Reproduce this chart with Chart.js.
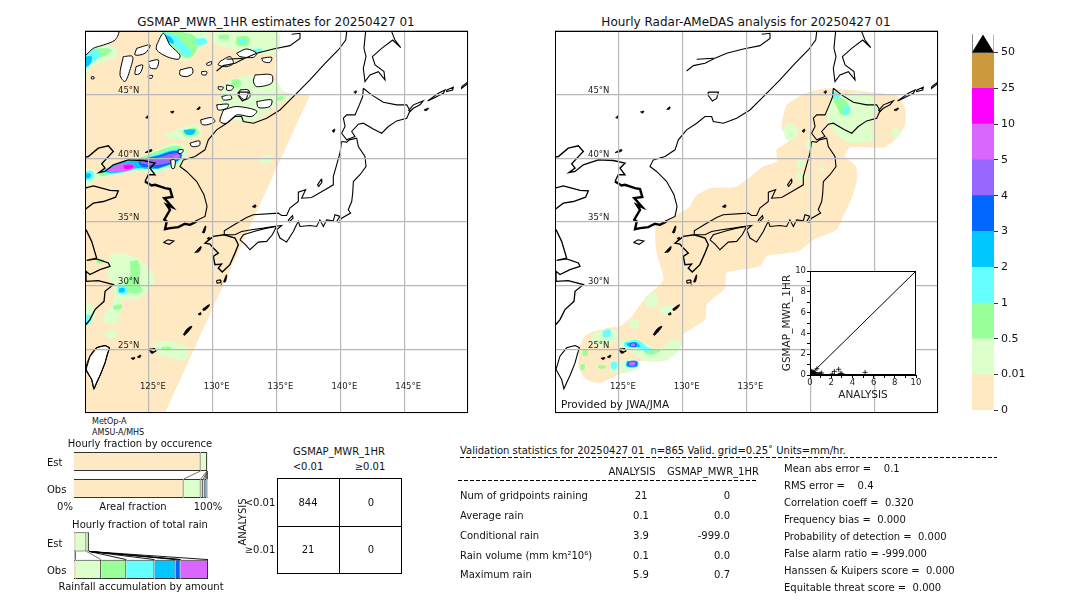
<!DOCTYPE html>
<html>
<head>
<meta charset="utf-8">
<script src="https://cdn.jsdelivr.net/npm/chart.js@4/dist/chart.umd.js"></script>
<style>
  html, body { margin: 0; background: #fff; }
  body { width: 1080px; height: 612px; position: relative; overflow: hidden; font-family: "DejaVu Sans", sans-serif; color: #111; }
  canvas { position: absolute; }
  .t { position: absolute; white-space: pre; line-height: 1; margin-top: 1px; transform: translate(0, -50%); font-size: 10px; }
  .c { transform: translate(-50%, -50%); }
  .r { transform: translate(-100%, -50%); }
  .dash { position: absolute; height: 1px; background: repeating-linear-gradient(90deg, #000 0 4px, transparent 4px 6px); }
  .cell { position: absolute; border: 1px solid #000; box-sizing: border-box; }
</style>
</head>
<body>
<canvas id="mapLeft" width="385" height="384" style="left:85px;top:30px"></canvas>
<canvas id="mapRight" width="385" height="384" style="left:555px;top:30px"></canvas>
<canvas id="inset" width="150" height="140" style="left:775px;top:262px"></canvas>
<canvas id="colorbar" width="70" height="395" style="left:965px;top:25px"></canvas>
<canvas id="occurrence" width="142" height="62" style="left:70px;top:444px"></canvas>
<canvas id="rainfall" width="142" height="63" style="left:70px;top:524px"></canvas>
<div id="labels"></div>
<script>
// colour levels, low to high
const levelLabels = ['0', '0.01', '0.5', '1', '2', '3', '4', '5', '10', '25', '50']
const levelColors = ['#ffe9c2', '#ddffcc', '#99ff99', '#66ffff', '#00c8ff', '#0066ff', '#9966ff', '#d966ff', '#ff00ff', '#cc9a3c']
const [TAN, LG, GR, CY, LB, BL, VI, PU, MG] = levelColors

// coastlines, [lon, lat]
const coastAsia = [[128.62,35.05],[129.4,35.44],[129.56,36.22],[129.32,37.14],[128.75,38.18],[127.96,38.97],[127.44,39.36],[127.7,39.88],[128.62,40.14],[129.4,40.67],[129.66,41.45],[130.31,42.24],[131.1,42.76],[131.75,43.28],[132.27,43.28],[132.4,42.89],[133.19,42.76],[134.23,43.15],[135.27,43.8],[136.32,44.85],[137.62,46.16],[138.8,47.46],[139.84,48.51],[140.42,49.29],[140.5,49.95]]
const coastKoreaSouthWest = [[128.75,35.05],[128.22,34.78],[127.83,34.86],[127.31,34.6],[126.66,34.52],[126.27,34.44],[126.4,35.04],[126.21,35.18],[126.66,35.96],[126.4,36.35],[126.84,36.17],[126.21,36.88],[126.84,36.96],[126.66,37.58],[126.27,37.66],[125.48,37.92],[125.22,37.87],[124.7,38.18]]
const coastKoreaWest = [[124.7,38.18],[124.96,38.71],[125.48,38.71],[125.09,39.23],[125.48,39.62],[124.57,39.83],[123.39,39.88],[122.22,39.49],[121.57,38.97],[121.1,38.89],[121.57,39.23],[121.31,39.57],[121.96,40.27],[122.22,40.54],[121.83,40.98],[121.04,40.8],[120.26,40.14],[120,40.09]]
const coastShandong = [[120,37.66],[120.65,37.84],[121.31,37.66],[121.96,37.48],[122.61,37.45],[122.4,36.95],[121.44,36.61],[120.65,36.48],[120.13,36.09],[120,35.96]]
const coastChina = [[120.08,34.4],[120.52,33.48],[120.91,32.17],[120.13,31.99],[120.91,32.1],[121.83,31.78],[121.96,31.52],[121.17,31.26],[120.39,30.87],[120.08,31.13],[120.08,30.34],[121.04,30.4],[122.22,30.08],[121.57,29.56],[121.49,28.77],[120.78,28.12],[120.39,27.34],[120.08,26.95]]
const coastAmur = [[130.31,46.86],[130.84,47.28],[131.75,47.46],[132.53,47.86],[131.1,47.78],[132.53,47.86],[133.45,48.25],[134.75,48.59],[136.06,48.85],[136.84,49.42],[136.84,49.82],[136.19,49.74]]
const coastSakhalin = [[141.98,49.95],[141.85,48.64],[142.01,47.99],[141.8,47.07],[141.93,46.03],[142.32,46.55],[142.98,46.81],[143.5,46.16],[143.42,46.81],[142.72,47.33],[142.51,47.99],[143.24,48.64],[144.1,49.29],[144.73,48.69],[144.28,49.29],[144.02,49.95]]
const coastHokkaido = [[141.8,45.5],[142.45,44.98],[143.37,44.41],[144.41,44.2],[145.2,44.2],[145.46,43.73],[145.2,43.15],[144.41,42.94],[143.76,42.5],[143.24,41.97],[142.58,42.31],[141.8,42.76],[141.41,42.68],[140.89,42.11],[141.15,41.71],[140.5,41.45],[140.1,41.97],[140.37,42.5],[140.24,43.15],[140.5,43.41],[141.15,43.41],[141.49,44.2],[141.75,44.85],[141.8,45.5]]
const coastHonshu = [[140.1,41.32],[140.5,41.27],[140.7,41.45],[141.28,41.58],[141.41,40.93],[141.93,40.14],[142.01,39.36],[141.54,38.71],[141.02,38.18],[140.97,37.27],[140.89,36.61],[140.62,35.96],[140.81,35.7],[140.1,35.3],[139.9,34.99],[139.71,35.05],[139.97,35.44],[139.58,35.57],[139.45,35.1],[138.93,35.17],[138.67,34.65],[138.4,35.17],[138.14,34.65],[137.62,34.73],[136.84,34.65],[136.71,35.05],[136.5,34.65],[136.32,34.26],[135.79,33.42],[135.27,33.74],[135.01,34.39],[135.4,34.73],[134.75,34.65],[133.97,34.52],[133.05,34.39],[132.27,34.26],[131.75,34],[130.96,34],[130.91,34.31],[131.75,34.83],[132.66,35.36],[133.18,35.57],[135.14,35.7],[135.4,35.51],[135.79,35.51],[136.05,36.09],[136.71,36.61],[136.71,37.34],[137.28,37.53],[136.97,36.87],[137.75,36.93],[138.8,37.53],[139.45,37.92],[139.45,38.57],[139.71,39.49],[139.97,40.4],[140.1,41.32]]
const coastShikoku = [[132.14,33.6],[132.4,34],[133.44,34.31],[134.23,34.52],[135.01,34.65],[134.67,34],[134.23,33.48],[133.57,33.42],[132.92,32.82],[132.53,33.27],[132.14,33.6]]
const coastKyushu = [[130.91,34],[131.75,33.74],[132.01,33.21],[131.75,32.56],[131.35,31.65],[130.75,31.07],[130.44,31.38],[130.7,31.7],[130.18,31.65],[130.05,32.3],[130.44,32.56],[130.05,32.95],[129.79,33.27],[129.4,33.34],[130.05,33.87],[130.91,34]]
const coastTaiwan = [[121.57,25.3],[121.91,25.12],[121.75,24.6],[121.57,23.94],[121.2,23],[120.91,22.37],[120.7,21.9],[120.52,22.63],[120.08,23.42],[120.39,24.46],[120.91,25.12],[121.57,25.3]]
const coastKunashir = [[145.33,43.73],[145.72,44.2],[146.5,44.51],[146.24,44.2],[145.72,43.93],[145.4,43.62]]
const ringIturup = [[146.84,44.51],[147.68,45.11],[148.2,45.37],[148.07,45.11],[147.29,44.72],[146.84,44.51]]
const ringUrup = [[148.33,45.37],[148.85,45.58],[148.8,45.37],[148.33,45.24],[148.33,45.37]]
const ringSimushir = [[149.5,45.63],[150,46],[149.9,45.8],[149.5,45.5],[149.5,45.63]]
const ringJeju = [[126.14,33.4],[126.5,33.6],[126.97,33.5],[126.6,33.25],[126.14,33.4]]
const ringSado = [[138.2,37.9],[138.5,38.35],[138.55,38.1],[138.3,37.8],[138.2,37.9]]
const ringBiwa = [[135.9,35.1],[136.25,35.5],[136.3,35.3],[136,35],[135.9,35.1]]
const ringKhanka = [[132,45.2],[132.8,45.2],[132.66,44.7],[132.33,44.5],[132,44.95],[132,45.2]]
const ringMiyako = [[125.0,25.0],[125.45,25.05],[125.55,24.85],[125.2,24.75],[125.0,25.0]]
const ringYaku = [[130.3,30.4],[130.6,30.45],[130.65,30.25],[130.35,30.2],[130.3,30.4]]
// small islands, drawn solid
const isleList = [
  [[127.7,26.16],[128.0,26.6],[128.36,26.81],[128.3,26.65],[127.8,26.1]],
  [[129.22,28.17],[129.74,28.51],[129.6,28.25],[129.3,28.05]],
  [[128.85,27.75],[129.05,27.9],[129.05,27.7]],
  [[123.6,24.3],[123.9,24.35],[123.8,24.2]],
  [[124.1,24.4],[124.35,24.55],[124.3,24.35]],
  [[125.15,24.9],[125.4,24.75],[125.2,24.7]],
  [[129.19,34.18],[129.45,34.7],[129.35,34.15]],
  [[129.55,33.7],[129.75,33.8],[129.7,33.65]],
  [[128.6,32.6],[129.08,33.08],[128.95,32.7]],
  [[130.85,30.3],[131.09,30.86],[131,30.3]],
  [[133.1,36.2],[133.35,36.35],[133.35,36.15]],
  [[141.05,45.2],[141.25,45.3],[141.2,45.1]],
  [[139.35,42.15],[139.55,42.3],[139.5,42.05]],
  [[146.55,43.8],[146.9,43.95],[146.75,43.75]],
  [[126.7,43.65],[126.95,43.7],[126.85,43.55]],
  [[128.75,43.85],[129,44.05],[128.95,43.85]],
  [[124.75,43.2],[124.95,43.35],[124.9,43.15]],
  [[124.7,40.45],[125.2,40.7],[125.2,40.55]]
]

// left panel rain field
const swathTan = [[120,50],[135,50],[135.01,48.9],[134.88,47.07],[135.01,46.03],[135.53,45.24],[136.58,44.98],[137.62,44.98],[126.26,20],[120,20]]
const leftHoles = [
  [[120,50],[122.61,50],[122.35,49.29],[121.44,48.9],[120.65,48.64],[120,48.12]],
  [[123,47.99],[123.73,47.99],[123.52,46.94],[123.13,46.03],[122.74,46.55]],
  [[124.05,48.64],[125.09,48.9],[124.7,48.25],[123.92,48.12]],
  [[124.96,47.59],[125.74,47.73],[125.61,47.07],[125.09,47.12]],
  [[124,47.2],[124.52,47.33],[124.31,46.68],[123.92,46.6]],
  [[124.96,46.5],[125.3,46.5],[125.22,46.29],[124.96,46.34]],
  [[125.61,48.9],[126.14,49.82],[126.66,48.9],[127.44,48.12],[127.31,47.78],[126.4,47.99],[125.61,48.51]],
  [[127.44,46.94],[128.36,47.12],[128.43,46.68],[127.96,46.42],[127.44,46.55]],
  [[129.14,46.81],[129.53,46.81],[129.48,46.55],[129.14,46.6]],
  [[129.53,47.46],[129.92,47.6],[129.84,47.33],[129.53,47.33]],
  [[130.57,47.6],[131.36,47.99],[131.62,47.46],[131.1,47.2],[130.44,47.33]],
  [[131.88,48.25],[132.66,48.59],[133.45,48.25],[133.19,47.93],[132.14,47.99]],
  [[133.84,47.86],[134.62,47.93],[134.49,47.54],[133.97,47.6]],
  [[133.32,46.55],[134.62,46.55],[134.62,45.9],[133.45,45.63],[133.19,46.03]],
  [[130.44,45.63],[130.84,45.58],[130.71,45.37],[130.44,45.45]],
  [[131.1,45.77],[131.62,45.63],[131.49,45.37],[131.1,45.37]],
  [[132.14,45.37],[132.79,45.37],[132.92,44.85],[132.53,44.59],[132.09,44.93]],
  [[130.71,44.85],[131.36,44.98],[131.49,44.67],[130.84,44.59]],
  [[133.45,44.46],[134.62,44.59],[134.49,44.07],[133.58,43.99]],
  [[130.31,44.2],[131.23,44.25],[131.1,43.93],[130.44,43.8]],
  [[130.84,43.8],[131.88,44.07],[133.45,43.73],[133.05,43.28],[131.88,43.41],[131.1,42.76],[130.57,42.89]],
  [[129.06,43.02],[129.92,43.2],[130.18,42.89],[129.53,42.63],[129.14,42.68]],
  [[128.22,41.19],[128.96,41.37],[128.96,41.01],[128.36,40.93]],
  [[127.31,40.67],[127.7,40.67],[127.57,40.41],[127.31,40.41]],
  [[126.71,39.88],[127.05,39.88],[127,39.23],[126.79,39.23]],
  [[120.5,46.4],[120.7,46.4],[120.7,46.25],[120.5,46.25]],
  coastTaiwan
]
const leftBlobs = [
  [LG, [[120,48.9],[121.44,48.9],[122.35,48.64],[122.48,47.99],[121.44,47.59],[120.39,47.07],[120,46.29]]],
  [GR, [[120,48.43],[121.18,48.64],[122.09,48.51],[121.44,47.99],[120.65,47.86],[120,47.2]]],
  [CY, [[120,48.25],[120.91,48.51],[121.18,48.12],[120.52,47.46],[120,47.07]]],
  [LB, [[120,47.99],[120.52,47.99],[120.39,47.39],[120,47.2]]],
  [LG, [[125.74,50],[129.66,50],[129.4,49.03],[128.49,48.12],[128.1,47.73],[127.18,47.86],[126.14,49.16]]],
  [GR, [[126,50],[127.7,49.9],[128.75,49.42],[128.62,48.25],[127.96,47.86],[127.31,48.38],[126.4,49.16]]],
  [CY, [[126.14,49.9],[127.05,49.69],[127.7,49.03],[128.36,48.25],[127.83,48.07],[127.05,48.85],[126.45,49.16]]],
  [LB, [[126.14,49.69],[126.66,49.56],[126.97,49.03],[126.53,49.16]]],
  [CY, [[128.49,49.37],[129.4,49.42],[129.53,49.03],[128.75,48.95]]],
  [LG, [[129.92,50],[135,50],[135,48.38],[133.32,48.25],[131.88,48.51],[130.05,49.16]]],
  [GR, [[130.44,49.69],[131.23,49.69],[131.23,49.37],[130.57,49.37]]],
  [GR, [[131.88,49.56],[132.79,49.56],[132.79,48.9],[131.88,48.9]]],
  [CY, [[132.09,49.29],[132.53,49.29],[132.53,49.03],[132.09,49.03]]],
  [CY, [[133.19,48.59],[133.84,48.59],[133.84,48.38],[133.19,48.38]]],
  [LG, [[131.1,46.03],[132.92,46.55],[135,46.03],[135.53,45.24],[136.32,44.98],[135.01,44.2],[133.97,43.41],[132.66,42.89],[130.57,43.54],[130.57,44.72]]],
  [GR, [[131.49,46.16],[132.14,46.16],[132.14,45.63],[131.49,45.63]]],
  [GR, [[135,44.85],[135.53,44.85],[135.4,44.59],[135,44.59]]],
  [LG, [[126.14,41.84],[127.44,42.37],[128.75,42.63],[129.14,41.97],[127.96,41.45],[126.53,41.58]]],
  [GR, [[127.57,42.1],[128.62,42.37],[128.88,41.97],[127.96,41.71]]],
  [LB, [[127.7,42.24],[128.62,42.24],[128.49,41.9],[127.91,41.9]]],
  [LG, [[120.91,38.58],[122.74,39.49],[124.31,40.14],[125.87,40.8],[126.92,41.19],[127.96,40.8],[127.7,39.75],[126.4,39.1],[125.35,38.84],[124.05,38.97],[122.22,38.71],[121.04,38.45]]],
  [GR, [[121.04,38.84],[122.74,39.62],[124.31,40.07],[125.61,40.54],[126.79,40.93],[127.57,40.8],[127.44,39.75],[126.14,39.23],[124.31,39.23],[122.48,38.84],[121.18,38.58]]],
  [CY, [[121.18,38.97],[122.74,39.7],[124.44,40.07],[125.61,40.33],[126.79,40.72],[127.44,40.67],[127.44,39.88],[125.87,39.28],[124.05,39.1],[122.22,38.76]]],
  [LB, [[121.31,38.97],[122.74,39.62],[124.18,39.88],[125.48,40.2],[127.18,40.64],[127.57,40.15],[125.87,39.23],[124.96,39.18],[124.05,39.23],[122.22,38.84]]],
  [BL, [[124.18,39.96],[125.48,40.12],[127.26,40.59],[127.52,40.01],[125.87,39.28],[125.22,39.28],[124.31,39.44]]],
  [VI, [[124.26,39.96],[125.48,40.01],[127.18,40.41],[127.44,40.07],[125.87,39.49],[124.44,39.62]]],
  [PU, [[121.57,39.05],[122.74,39.54],[123.52,39.62],[123.92,39.36],[123.39,39.02],[122.09,38.92]]],
  [PU, [[126.92,40.2],[127.31,40.28],[127.31,40.02],[126.95,40]]],
  [MG, [[123,39.44],[123.66,39.49],[123.79,39.28],[123.13,39.18]]],
  [LG, [[120,39.1],[121,38.97],[121.05,38.45],[120,37.9]]],
  [CY, [[120,38.97],[120.6,38.97],[120.65,38.45],[120,38.3]]],
  [LB, [[120,38.84],[120.44,38.79],[120.39,38.5],[120,38.45]]],
  [LG, [[133.58,40.01],[134.36,40.27],[134.7,39.88],[134.23,39.62],[133.71,39.7]]],
  [LG, [[121.96,32.57],[123.52,32.43],[124.83,31.52],[125.48,30.47],[124.83,29.56],[124.05,28.91],[123,28.91],[122.74,27.86],[122.48,27.08],[121.57,27.08],[121.44,27.6],[122.22,28.65],[122.22,29.95],[121.83,30.74],[121.83,31.78]]],
  [LG, [[121.44,26.16],[122.09,26.55],[122.48,26.16],[121.96,25.82]]],
  [GR, [[123.52,31.91],[124.18,31.91],[124.31,30.21],[124.44,29.48],[123.13,29.56],[123.13,30.21],[123.52,30.74]]],
  [GR, [[122.22,28.44],[122.87,28.51],[122.79,28.17],[122.22,28.17]]],
  [CY, [[122.53,29.95],[123.21,29.95],[123.26,29.38],[122.61,29.38]]],
  [LB, [[122.69,29.8],[123.08,29.8],[123.08,29.51],[122.69,29.51]]],
  [LG, [[125.48,25.51],[126.66,25.64],[127.96,25.12],[127.83,24.2],[126.66,24.33],[125.48,24.85]]],
  [GR, [[126,25.19],[126.71,25.19],[126.71,24.98],[126,24.98]]],
  [LG, [[120.08,28.65],[120.65,28.38],[120.86,27.73],[120.08,26.82]]],
  [CY, [[120,27.73],[120.52,27.6],[120.39,27.08],[120,26.87]]],
  [GR, [[120.91,32.04],[121.44,32.04],[121.44,31.8],[120.91,31.8]]]
]

// right panel rain field
const analysisTan = [[139.58,45.11],[141.28,45.5],[144.8,45.19],[146.89,44.85],[147.42,43.93],[147.42,42.63],[146.76,41.58],[145.72,40.85],[143.11,40.85],[142.72,40.14],[143.58,39.36],[143.63,38.18],[143.24,36.88],[142.45,35.18],[142.06,34.4],[140.24,33.61],[139.06,32.7],[136.58,32.32],[136.06,31.52],[133.45,31],[133.32,29.82],[131.88,28.51],[131.75,27.34],[130.05,26.16],[130.05,25.38],[129.66,25.11],[128.75,24.15],[126.66,24.07],[125.87,23.42],[124.7,22.89],[123.52,22.37],[122.48,22.63],[121.83,23.68],[121.96,25.25],[122.48,26.16],[124.05,26.68],[125.09,26.81],[126.01,27.6],[127.18,29.17],[128.49,30.47],[127.96,32.57],[127.91,34.66],[129.27,35.44],[130.57,36.22],[130.97,37.01],[132.14,37.66],[134.23,37.79],[136.32,39.36],[137.36,39.75],[137.36,40.67],[138.41,41.45],[137.75,42.37],[138.15,44.2]]
const rightBlobs = [
  [LG, [[141.67,45.37],[142.58,44.98],[143.89,45.16],[145.33,44.2],[144.8,43.02],[144.67,41.71],[143.76,41.19],[142.58,41.45],[141.8,42.24],[141.28,43.15],[141.54,44.46]]],
  [GR, [[141.8,45.11],[142.32,44.85],[142.98,44.2],[143.11,43.54],[142.45,43.41],[142.06,44.07],[141.8,44.59]]],
  [CY, [[141.67,45.29],[142.27,45.11],[142.19,44.67],[141.8,44.85]]],
  [CY, [[142.59,44.07],[143,44.07],[143,43.5],[142.6,43.5]]],
  [LG, [[137.89,42.37],[138.41,42.76],[138.93,42.37],[138.8,41.58],[138.15,41.45]]],
  [LG, [[139.58,41.32],[140.1,41.45],[140.24,40.93],[139.71,40.8]]],
  [LG, [[138.93,39.75],[139.45,39.88],[139.5,39.36],[138.98,39.28]]],
  [LG, [[138.88,38.84],[139.45,38.97],[139.5,38.39],[139.06,38.32]]],
  [LG, [[140.7,39.23],[141.02,39.23],[141.02,38.92],[140.7,38.92]]],
  [LG, [[146.37,42.24],[146.89,42.32],[147.02,41.84],[146.5,41.63]]],
  [LG, [[144.28,41.9],[144.8,41.98],[144.88,41.45],[144.36,41.37]]],
  [LG, [[127.05,29.17],[127.96,29.43],[127.91,28.33],[127.18,28.38]]],
  [LG, [[128.09,28.25],[129.01,28.44],[129.32,27.99],[128.36,27.81]]],
  [LG, [[125.82,27.39],[126.53,27.21],[126.45,26.68],[125.87,26.76]]],
  [LG, [[124.96,25.64],[126.4,25.72],[128.22,25.04],[129.27,25.82],[129.92,25.3],[128.75,24.2],[127.18,24.07],[126.27,24.59],[125.22,25.12]]],
  [LG, [[122.87,26.16],[124.31,26.61],[124.96,26.16],[124.31,25.3],[123,25.46]]],
  [LG, [[124.31,23.68],[125.61,24.2],[126.53,23.68],[125.74,23.21],[124.44,23.21]]],
  [GR, [[123.39,23.73],[123.92,23.73],[123.92,23.52],[123.39,23.52]]],
  [GR, [[122.17,24.93],[122.53,24.93],[122.53,24.51],[122.17,24.51]]],
  [GR, [[122.01,23.81],[122.3,23.81],[122.3,23.42],[122.01,23.42]]],
  [GR, [[126.92,25.12],[128.22,24.93],[127.7,24.59],[127.05,24.72]]],
  [CY, [[123.73,26.42],[124.31,26.55],[124.31,26.03],[123.79,25.98]]],
  [CY, [[124.36,23.99],[124.83,23.99],[124.78,23.47],[124.44,23.47]]],
  [CY, [[125.4,25.56],[126.45,25.72],[127.31,25.12],[127.7,24.78],[127.05,24.85],[126.4,25.12],[125.48,25.2]]],
  [LB, [[125.56,25.46],[126.35,25.56],[126.66,25.2],[125.74,25.25]]],
  [BL, [[125.87,25.5],[126.35,25.5],[126.35,25.22],[125.87,25.22]]],
  [PU, [[125.95,25.46],[126.24,25.46],[126.24,25.27],[125.95,25.27]]],
  [LB, [[125.61,24.07],[126.45,24.07],[126.45,23.65],[125.61,23.65]]],
  [BL, [[125.69,24.02],[126.37,24.02],[126.37,23.71],[125.69,23.71]]],
  [PU, [[125.8,23.97],[126.27,23.97],[126.27,23.76],[125.8,23.76]]]
]

// inset scatter, analysis vs estimate
const scatterAnalysis = [5.2, 2.7, 2.3, 2.1, 2.85, 3.0, 0.65, 1.1, 1.0, 0.05, 0.1, 0.15, 0.2, 0.25, 0.3, 0.35, 0.4, 0.45, 0.5, 0.55, 0.6, 0.7, 0.8, 0.9, 0.05, 0.1, 0.15, 0.2, 0.25, 0.3, 0.4, 0.5, 0.05, 0.12, 0.2, 0.3]
const scatterEstimate = [0.25, 0.55, 0.35, 0.1, 0.15, 0.15, 0.6, 0.2, 0.1, 0.05, 0.05, 0.05, 0.05, 0.05, 0.05, 0.05, 0.05, 0.05, 0.05, 0.05, 0.05, 0.05, 0.05, 0.05, 0.2, 0.2, 0.2, 0.2, 0.2, 0.2, 0.2, 0.2, 0.35, 0.35, 0.3, 0.3]
const insetTicks = [0, 2, 4, 6, 8, 10]

// fraction bars, percent per level
const fractionLabels = ['Est', 'Obs']
const occurrenceEst = [94.5, 4.8, 0.2, 0.1, 0.1, 0.1, 0.1, 0.1]
const occurrenceObs = [81.8, 12.7, 1.9, 1.2, 1.2, 0.6, 0.3, 0.3]
const rainEst = [1, 8.25, 2, 0, 0, 0, 0, 0]
const rainObs = [1, 19.25, 18.75, 21, 15.75, 3.75, 0, 20.5]

const contingencyRows = ['<0.01', '≥0.01']
const contingencyValues = [[844, 0], [21, 0]]

const statNames = ['Num of gridpoints raining', 'Average rain', 'Conditional rain', 'Rain volume (mm km²10⁶)', 'Maximum rain']
const statAnalysis = ['21', '0.1', '3.9', '0.1', '5.9']
const statEstimate = ['0', '0.0', '-999.0', '0.0', '0.7']
const scoreLines = ['Mean abs error =    0.1', 'RMS error =    0.4', 'Correlation coeff =  0.320', 'Frequency bias =  0.000', 'Probability of detection =  0.000', 'False alarm ratio = -999.000', 'Hanssen & Kuipers score =  0.000', 'Equitable threat score =  0.000']

const toPoints = pts => pts.map(p => ({ x: p[0], y: p[1] }))
const closed = pts => pts.concat([pts[0]])

function area(pts, color, tension) {
  return { data: toPoints(closed(pts)), showLine: true, fill: 'shape', backgroundColor: color, borderColor: color, borderWidth: 0, pointRadius: 0, tension: tension || 0 }
}
function stroke(pts, width, color) {
  return { data: toPoints(pts), showLine: true, fill: false, borderColor: color || '#000', borderWidth: width || 1.1, pointRadius: 0 }
}
function hole(pts) {
  return { data: toPoints(closed(pts)), showLine: true, fill: 'shape', backgroundColor: '#fff', borderColor: '#000', borderWidth: 1, pointRadius: 0, tension: 0.3 }
}
const painted = list => list.map((d, i) => Object.assign(d, { order: list.length - i }))

const coastSets = () => [
  stroke(coastAsia), stroke(coastKoreaSouthWest, 2.4), stroke(coastKoreaWest, 1.4), stroke(coastShandong, 1.3), stroke(coastChina, 1.3), stroke(coastAmur),
  stroke(coastSakhalin), stroke(coastHokkaido), stroke(coastHonshu), stroke(coastShikoku), stroke(coastKyushu, 1.4),
  stroke(coastTaiwan), stroke(coastKunashir), stroke(ringIturup), stroke(ringUrup), stroke(ringSimushir),
  stroke(ringJeju), stroke(ringSado), stroke(ringBiwa), stroke(ringKhanka), stroke(ringMiyako), stroke(ringYaku),
  ...isleList.map(p => Object.assign(area(p, '#000', 0.5), { borderWidth: 0.8 }))
]

const framePlugin = {
  id: 'frame',
  afterDraw(chart) {
    const a = chart.chartArea, ctx = chart.ctx
    ctx.save()
    ctx.strokeStyle = '#000'
    ctx.lineWidth = 1
    ctx.strokeRect(a.left + 0.5, a.top + 0.5, a.width - 1, a.height - 1)
    ctx.restore()
  }
}
const whitePlugin = {
  id: 'whiteArea',
  beforeDatasetsDraw(chart) {
    const a = chart.chartArea
    chart.ctx.fillStyle = '#fff'
    chart.ctx.fillRect(a.left, a.top, a.width, a.height)
  }
}

// labels sit inside the map, so the axes must take no room
const noRoom = s => {
  s.width = s.isHorizontal() ? s.width : 0
  s.height = s.isHorizontal() ? 0 : s.height
  s.paddingLeft = s.paddingRight = s.paddingTop = s.paddingBottom = 0
}

function drawMap(id, sets, lonLabels) {
  new Chart(document.getElementById(id), {
    type: 'scatter',
    data: { datasets: painted(sets) },
    plugins: [framePlugin],
    options: {
      responsive: false, animation: false, events: [],
      layout: { padding: { top: 1, left: 0, right: 2, bottom: 1 } },
      plugins: { legend: { display: false }, tooltip: { enabled: false } },
      scales: {
        x: {
          min: 120, max: 150, afterFit: noRoom,
          grid: { color: '#b8b8b8', lineWidth: 1.2, z: 1, drawTicks: false },
          border: { display: false },
          ticks: { z: 2, stepSize: 5, mirror: true, padding: 21, labelOffset: 4, color: '#222', font: { size: 8.5, family: 'DejaVu Sans' }, maxRotation: 0,
            callback: v => lonLabels.includes(v) ? v + '°E' : '' }
        },
        y: {
          min: 20, max: 50, afterFit: noRoom,
          grid: { color: '#b8b8b8', lineWidth: 1.2, z: 1, drawTicks: false },
          border: { display: false },
          ticks: { z: 2, stepSize: 5, mirror: true, padding: 33, labelOffset: -4, color: '#222', font: { size: 8.5, family: 'DejaVu Sans' },
            callback: v => (v > 20 && v < 50) ? v + '°N' : '' }
        }
      }
    }
  })
}

drawMap('mapLeft', [
  area(swathTan, TAN),
  ...leftBlobs.map(b => area(b[1], b[0], 0.4)),
  ...leftHoles.map(hole),
  ...coastSets()
], [125, 130, 135, 140, 145])

drawMap('mapRight', [
  area(analysisTan, TAN, 0.2),
  ...rightBlobs.map(b => area(b[1], b[0], 0.4)),
  ...coastSets()
], [125, 130, 135])

new Chart(document.getElementById('inset'), {
  type: 'scatter',
  data: { datasets: painted([
    { data: [{ x: 0, y: 0 }, { x: 10, y: 10 }], showLine: true, borderColor: '#000', borderWidth: 1, pointRadius: 0 },
    { data: scatterAnalysis.map((x, i) => ({ x, y: scatterEstimate[i] })), pointStyle: 'cross', pointRadius: 2.5, borderColor: '#000', borderWidth: 0.8 }
  ]) },
  plugins: [whitePlugin, framePlugin],
  options: {
    responsive: false, animation: false, events: [],
    layout: { padding: { top: 9, right: 9, left: 6, bottom: 0 } },
    plugins: { legend: { display: false }, tooltip: { enabled: false } },
    scales: {
      x: { min: 0, max: 10, afterFit: s => { s.height = 27 },
        grid: { drawOnChartArea: false, color: '#000', tickLength: 3 }, border: { color: '#000' },
        title: { display: true, text: 'ANALYSIS', color: '#222', padding: 0, font: { size: 10.5, family: 'DejaVu Sans' } },
        ticks: { stepSize: 1, autoSkip: false, maxRotation: 0, padding: 0, color: '#222', font: { size: 8.5, family: 'DejaVu Sans' }, callback: v => insetTicks.includes(v) ? v : '' } },
      y: { min: 0, max: 10, afterFit: s => { s.width = 29 },
        grid: { drawOnChartArea: false, color: '#000', tickLength: 3 }, border: { color: '#000' },
        title: { display: true, text: 'GSMAP_MWR_1HR', color: '#222', padding: 0, font: { size: 10.5, family: 'DejaVu Sans' } },
        ticks: { stepSize: 1, autoSkip: false, padding: 1, color: '#222', font: { size: 8.5, family: 'DejaVu Sans' }, callback: v => insetTicks.includes(v) ? v : '' } }
    }
  }
})

// colour bar: stacked bars on a linear axis, plus the triangle and the outline
new Chart(document.getElementById('colorbar'), {
  type: 'bar',
  data: {
    datasets: [
      { type: 'scatter', data: toPoints([[0,10],[1,10],[0.5,10.5],[0,10]]), showLine: true, fill: 'shape', backgroundColor: '#000', borderColor: '#000', borderWidth: 0, pointRadius: 0 },
      { type: 'scatter', data: toPoints([[0,0],[1,0],[1,10],[0,10],[0,0]]), showLine: true, fill: false, borderColor: '#777', borderWidth: 1, pointRadius: 0 },
      ...levelColors.map(c => ({ data: [{ x: 0.5, y: 1 }], backgroundColor: c, borderWidth: 0, barThickness: 22 }))
    ]
  },
  options: {
    responsive: false, animation: false, events: [],
    layout: { padding: { top: 5, left: 7, bottom: 6, right: 0 } },
    plugins: { legend: { display: false }, tooltip: { enabled: false } },
    scales: {
      x: { type: 'linear', display: false, offset: false, stacked: true, min: 0, max: 1 },
      y: { position: 'right', stacked: true, min: 0, max: 10.5, afterFit: s => { s.width = 41 },
        grid: { drawOnChartArea: false, color: '#333', tickLength: 4 }, border: { display: false },
        ticks: { stepSize: 1, includeBounds: false, padding: 3, color: '#111', font: { size: 11, family: 'DejaVu Sans' }, callback: v => levelLabels[v] } }
    }
  }
})

function cumulative(values) {
  let sum = 0
  return values.map(v => (sum += v))
}

function drawFraction(id, est, obs, linkColors) {
  const estCum = cumulative(est), obsCum = cumulative(obs)
  const links = estCum.map((e, i) => ({
    type: 'scatter', xAxisID: 'x', yAxisID: 'link', data: [{ x: e, y: 0.574 }, { x: obsCum[i], y: 0.426 }],
    showLine: true, borderColor: i < 2 ? '#666' : linkColors, borderWidth: 0.9, pointRadius: 0
  }))
  new Chart(document.getElementById(id), {
    type: 'bar',
    data: {
      labels: fractionLabels,
      datasets: [
        ...links,
        ...levelColors.slice(0, 8).map((c, i) => ({
          indexAxis: 'y', data: [est[i], obs[i]], backgroundColor: c, borderColor: '#333', borderWidth: 1,
          barPercentage: 0.7, categoryPercentage: 1
        }))
      ]
    },
    options: {
      responsive: false, animation: false, events: [],
      layout: { padding: { top: 4, left: 4, right: 4, bottom: 4 } },
      plugins: { legend: { display: false }, tooltip: { enabled: false } },
      scales: {
        x: { type: 'linear', min: 0, max: 100, stacked: true, display: false, offset: false },
        y: { type: 'category', stacked: true, display: false, offset: true },
        link: { type: 'linear', min: 0, max: 1, display: false, offset: false }
      }
    }
  })
}
drawFraction('occurrence', occurrenceEst, occurrenceObs, '#555')
drawFraction('rainfall', rainEst, rainObs, '#000')

// plain text and the two tables
const labels = document.getElementById('labels')
function put(text, x, y, size, cls, extra) {
  const el = document.createElement('div')
  el.className = 't ' + (cls || '')
  el.textContent = text
  el.style.left = x + 'px'
  el.style.top = y + 'px'
  el.style.fontSize = size + 'px'
  if (extra) el.style.cssText += extra
  labels.appendChild(el)
}
function box(x, y, w, h) {
  const el = document.createElement('div')
  el.className = 'cell'
  el.style.cssText = `left:${x}px;top:${y}px;width:${w}px;height:${h}px`
  labels.appendChild(el)
}
function dash(x, y, w) {
  const el = document.createElement('div')
  el.className = 'dash'
  el.style.cssText = `left:${x}px;top:${y}px;width:${w}px`
  labels.appendChild(el)
}

put('GSMAP_MWR_1HR estimates for 20250427 01', 276, 21, 12, 'c')
put('Hourly Radar-AMeDAS analysis for 20250427 01', 746, 21, 12, 'c')
put('Provided by JWA/JMA', 561, 403, 10.5)
put('MetOp-A', 92, 421, 8)
put('AMSU-A/MHS', 92, 432, 8)

put('Hourly fraction by occurence', 140, 443, 10, 'c')
put('Est', 47, 462, 10)
put('Obs', 47, 489, 10)
put('0%', 65, 506, 10, 'c')
put('Areal fraction', 133, 506, 10, 'c')
put('100%', 208, 506, 10, 'c')
put('Hourly fraction of total rain', 140, 524, 10, 'c')
put('Est', 47, 543, 10)
put('Obs', 47, 570, 10)
put('Rainfall accumulation by amount', 141, 586, 10, 'c')

put('GSMAP_MWR_1HR', 339, 451, 10, 'c')
put(contingencyRows[0], 308, 466, 10, 'c')
put(contingencyRows[1], 370, 466, 10, 'c')
put(contingencyRows[0], 260, 502, 10, 'c')
put(contingencyRows[1], 260, 549, 10, 'c')
put('ANALYSIS', 243, 521, 10, 'c', 'transform:translate(-50%,-50%) rotate(-90deg);')
box(277, 478, 63, 49); box(339, 478, 63, 49); box(277, 526, 63, 48); box(339, 526, 63, 48)
contingencyValues.forEach((row, r) => row.forEach((v, c) => put(String(v), c ? 371 : 308, r ? 549 : 502, 10, 'c')))

put('Validation statistics for 20250427 01  n=865 Valid. grid=0.25˚ Units=mm/hr.', 460, 450, 10)
dash(460, 457, 537)
put('ANALYSIS', 632, 471, 10, 'c')
put('GSMAP_MWR_1HR', 713, 471, 10, 'c')
dash(458, 480, 300)
const statRows = [495, 515, 535, 555, 574]
statNames.forEach((name, i) => {
  put(name, 460, statRows[i], 10)
  put(statAnalysis[i], 641, statRows[i], 10, 'c')
  put(statEstimate[i], 730, statRows[i], 10, 'r')
})
scoreLines.forEach((line, i) => put(line, 784, 468 + i * 17, 10))
</script>
</body>
</html>
